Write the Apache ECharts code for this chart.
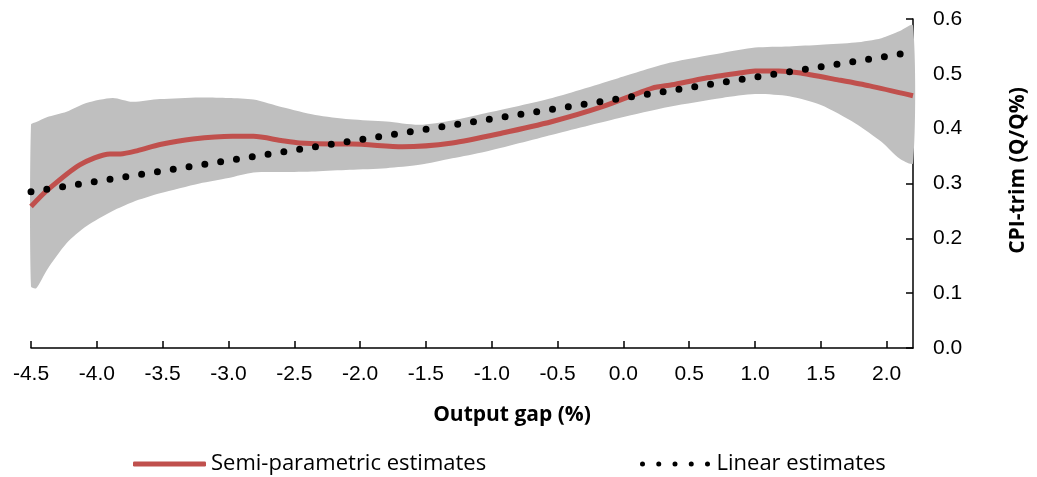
<!DOCTYPE html>
<html>
<head>
<meta charset="utf-8">
<script src="https://cdn.jsdelivr.net/npm/echarts@6/dist/echarts.min.js"></script>
<style>
  html, body { margin: 0; padding: 0; background: #fff; }
  #main { width: 1037px; height: 477px; }
</style>
</head>
<body>
<div id="main"></div>
<script>
// semi-parametric estimate (red line)
const semiX = [-4.5, -4.38, -4.13, -3.9, -3.82, -3.69, -3.52, -3.27, -2.97, -2.81, -2.59, -2.46, -2.21, -2.06, -1.68, -1.3, -0.92, -0.54, -0.16, 0.22, 0.37, 0.62, 0.87, 1.0, 1.18, 1.33, 1.63, 1.87, 2.2];
const semiY = [0.258, 0.287, 0.334, 0.354, 0.354, 0.360, 0.371, 0.381, 0.386, 0.386, 0.378, 0.374, 0.372, 0.372, 0.367, 0.374, 0.392, 0.413, 0.440, 0.474, 0.480, 0.492, 0.501, 0.505, 0.505, 0.502, 0.489, 0.478, 0.460];

// confidence band (grey)
const bandX = [-4.5, -4.46, -4.38, -4.23, -4.08, -3.88, -3.73, -3.52, -3.22, -3.0, -2.81, -2.59, -2.34, -2.08, -1.8, -1.55, -1.3, -1.05, -0.54, -0.04, 0.35, 0.75, 1.0, 1.26, 1.5, 1.76, 1.96, 2.1, 2.2];
const bandHigh = [0.407, 0.412, 0.421, 0.431, 0.447, 0.456, 0.449, 0.454, 0.457, 0.456, 0.453, 0.439, 0.425, 0.417, 0.413, 0.407, 0.415, 0.428, 0.456, 0.492, 0.520, 0.538, 0.548, 0.550, 0.553, 0.557, 0.565, 0.578, 0.588];
const bandLow = [0.112, 0.109, 0.142, 0.191, 0.222, 0.250, 0.266, 0.282, 0.300, 0.310, 0.320, 0.321, 0.322, 0.325, 0.328, 0.334, 0.346, 0.358, 0.389, 0.419, 0.440, 0.456, 0.463, 0.459, 0.443, 0.410, 0.376, 0.345, 0.337];

// linear estimate (black dots)
const linX = [-4.5, -4.0, -3.5, -3.0, -2.5, -2.0, -1.5, -1.0, -0.5, 0.0, 0.5, 1.0, 1.5, 2.0, 2.2];
const linY = [0.285, 0.304, 0.323, 0.342, 0.361, 0.380, 0.399, 0.418, 0.437, 0.456, 0.475, 0.494, 0.513, 0.532, 0.540];

const RED = "#C0504D";
const GREY = "#BFBFBF";
const dotsIcon = "path://M0,2.5a2.5,2.5 0 1,0 5,0a2.5,2.5 0 1,0 -5,0zM16.25,2.5a2.5,2.5 0 1,0 5,0a2.5,2.5 0 1,0 -5,0zM32.5,2.5a2.5,2.5 0 1,0 5,0a2.5,2.5 0 1,0 -5,0zM48.75,2.5a2.5,2.5 0 1,0 5,0a2.5,2.5 0 1,0 -5,0zM65,2.5a2.5,2.5 0 1,0 5,0a2.5,2.5 0 1,0 -5,0z";

const zip = (xs, ys) => xs.map((x, i) => [x, ys[i]]);

// band polygon: upper edge left->right, lower edge right->left
function renderBand(params, api) {
  const pts = [];
  bandX.forEach((x, i) => pts.push(api.coord([x, bandHigh[i]])));
  for (let i = bandX.length - 1; i >= 0; i--) pts.push(api.coord([bandX[i], bandLow[i]]));
  return {
    type: "polygon",
    shape: { points: pts, smooth: 0.25 },
    style: { fill: GREY },
    silent: true,
  };
}

const myChart = echarts.init(document.getElementById("main"));
myChart.setOption({
  animation: false,
  title: {
    text: "Output gap (%)",
    left: 507,
    top: 400,
    textAlign: "center",
    textStyle: { fontFamily: "Open Sans", fontWeight: "bold", fontSize: 21, color: "#000" },
  },
  grid: { left: 31, right: 122, top: 19, bottom: 129 },
  legend: [
    {
      left: 128,
      top: 448,
      itemWidth: 73,
      itemHeight: 5,
      data: [{ name: "Semi-parametric estimates", icon: "roundRect", itemStyle: { color: RED } }],
      textStyle: { fontFamily: "Open Sans", fontSize: 22, color: "#000" },
    },
    {
      left: 635,
      top: 448,
      itemWidth: 73,
      itemHeight: 5,
      data: [{ name: "Linear estimates", icon: dotsIcon, itemStyle: { color: "#000" } }],
      textStyle: { fontFamily: "Open Sans", fontSize: 22, color: "#000" },
    },
  ],
  xAxis: {
    type: "value",
    min: -4.5,
    max: 2.2,
    interval: 0.5,
    axisLine: { onZero: false, lineStyle: { color: "#000", width: 1.5 } },
    axisTick: { inside: true, length: 7, lineStyle: { color: "#000", width: 1.5 } },
    axisLabel: {
      showMaxLabel: false,
      margin: 16,
      fontFamily: "Liberation Sans",
      fontSize: 21,
      color: "#000",
      formatter: (v) => v.toFixed(1),
    },
    splitLine: { show: false },
  },
  yAxis: {
    type: "value",
    position: "right",
    min: 0,
    max: 0.6,
    interval: 0.1,
    name: "CPI-trim (Q/Q%)",
    nameLocation: "middle",
    nameRotate: 90,
    nameGap: 95,
    nameTextStyle: { fontFamily: "Open Sans", fontWeight: "bold", fontSize: 21, color: "#000", padding: [0, 0, 0, 26] },
    axisLine: { show: true, onZero: false, lineStyle: { color: "#000", width: 1.5 } },
    axisTick: { show: true, inside: true, length: 7, lineStyle: { color: "#000", width: 1.5 } },
    axisLabel: {
      margin: 20,
      fontFamily: "Liberation Sans",
      fontSize: 21,
      color: "#000",
      formatter: (v) => v.toFixed(1),
    },
    splitLine: { show: false },
  },
  series: [
    {
      name: "band",
      type: "custom",
      renderItem: renderBand,
      data: [[bandX[0], bandLow[0]]],
      silent: true,
      z: 1,
    },
    {
      name: "Semi-parametric estimates",
      type: "line",
      smooth: 0.25,
      symbol: "none",
      color: RED,
      lineStyle: { color: RED, width: 5 },
      data: zip(semiX, semiY),
      z: 2,
    },
    {
      name: "Linear estimates",
      type: "line",
      symbol: "none",
      color: "#000",
      lineStyle: { color: "#000", width: 7, type: [0, 16], cap: "round" },
      data: zip(linX, linY),
      z: 3,
    },
  ],
});

window.addEventListener("resize", () => myChart.resize());
</script>
</body>
</html>
